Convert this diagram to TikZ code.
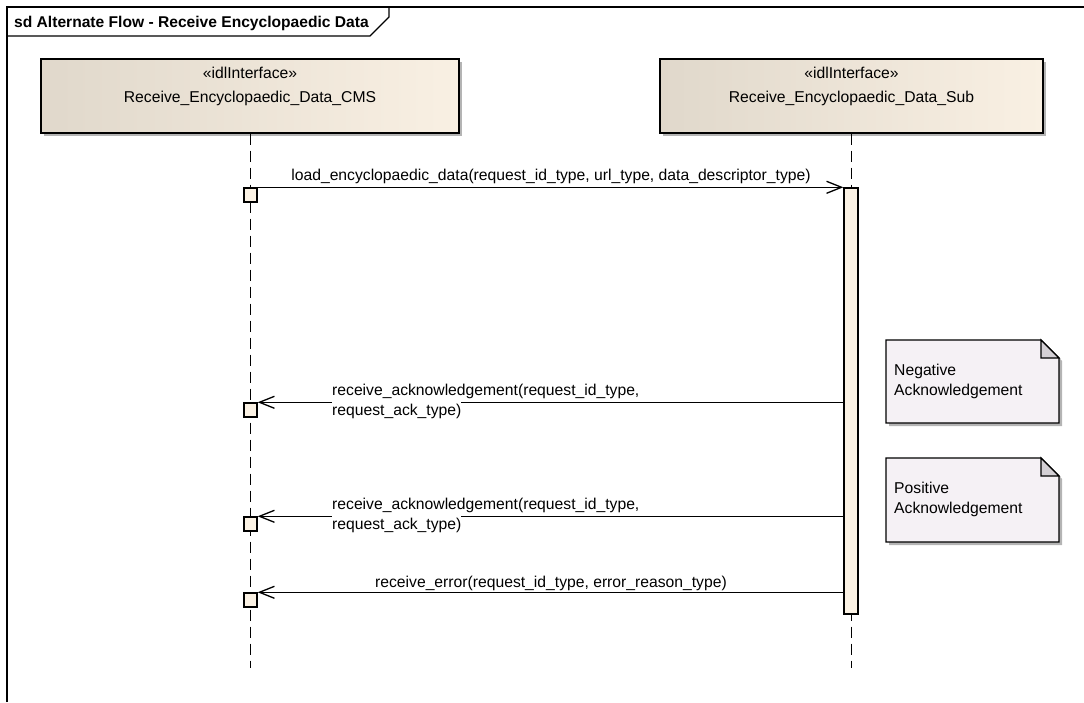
\documentclass[tikz,border=0pt]{standalone}
\usepackage{fontspec}
\setmainfont{Liberation Sans}
\usetikzlibrary{arrows.meta,shadows}
\definecolor{boxL}{RGB}{224,216,203}
\definecolor{boxR}{RGB}{249,240,227}
\definecolor{actfill}{RGB}{251,242,228}
\definecolor{notefill}{RGB}{245,241,245}
\definecolor{foldfill}{RGB}{212,208,213}
\definecolor{shadowc}{RGB}{180,180,180}
\tikzset{
  every node/.style={font=\fontsize{15.7}{18}\selectfont, inner sep=0pt},
  headbox/.style={draw=black, line width=1.4pt, left color=boxL, right color=boxR, shading angle=90,
     drop shadow={shadow xshift=3pt, shadow yshift=-3pt, fill=shadowc, opacity=1}},
  lifeline/.style={line width=1.4pt, dash pattern=on 11pt off 6pt},
  actbox/.style={draw=black, line width=1.4pt, fill=actfill},
  msg/.style={line width=1.3pt, -{Straight Barb[length=15pt,width=12pt,line width=1.3pt]}},
  msgtext/.style={anchor=base},
  notetext/.style={anchor=base west},
  notebody/.style={draw=black, line width=1.4pt, fill=notefill},
  frameline/.style={line width=1.3pt},
}
\begin{document}
\begin{tikzpicture}[x=1pt,y=-1pt]
\useasboundingbox (0,0) rectangle (1084,702);
% frame
\draw[frameline] (7,702) -- (7,7) -- (1084,7);
\draw[frameline] (7,36) -- (370,36) -- (389,17) -- (389,7);
\node[anchor=base west, font=\fontsize{15.6}{18}\selectfont\bfseries] (title) at (14,27) {sd Alternate Flow - Receive Encyclopaedic Data};

% lifeline heads
\node[headbox, minimum width=418pt, minimum height=74pt] (headL) at (250,96) {};
\node[headbox, minimum width=383pt, minimum height=74pt] (headR) at (851.5,96) {};
\node[msgtext] (stL) at (250,78) {«idlInterface»};
\node[msgtext] (nmL) at (250,102) {Receive\_Encyclopaedic\_Data\_CMS};
\node[msgtext] (stR) at (851.5,78) {«idlInterface»};
\node[msgtext] (nmR) at (851.5,102) {Receive\_Encyclopaedic\_Data\_Sub};

% lifelines
\coordinate (endL) at (250.5,668);
\coordinate (endR) at (851.5,668);
\draw[lifeline] (headL.south -| endL) -- (endL);
\draw[lifeline] (headR.south -| endR) -- (endR);

% activations
\node[actbox, minimum width=14pt, minimum height=426pt] (bar) at (851,401) {};
\node[actbox, minimum width=13pt, minimum height=14pt] (sq1) at (250.5,195) {};
\node[actbox, minimum width=13pt, minimum height=14pt] (sq2) at (250.5,410) {};
\node[actbox, minimum width=13pt, minimum height=14pt] (sq3) at (250.5,524) {};
\node[actbox, minimum width=13pt, minimum height=14pt] (sq4) at (250.5,600) {};

% messages
\draw[msg] (sq1.north east) -- (sq1.north east -| bar.west);
\node[msgtext] (m1) at (551,180) {load\_encyclopaedic\_data(request\_id\_type, url\_type, data\_descriptor\_type)};

\draw[msg] (sq2.north east -| bar.west) -- (sq2.north east);
\node[anchor=base west] (m2a) at (332,395) {receive\_acknowledgement(request\_id\_type,};
\node[anchor=base west, fill=white, inner ysep=1.5pt, text height=12pt] (m2b) at (332,415) {request\_ack\_type)};

\draw[msg] (sq3.north east -| bar.west) -- (sq3.north east);
\node[anchor=base west] (m3a) at (332,509) {receive\_acknowledgement(request\_id\_type,};
\node[anchor=base west, fill=white, inner ysep=1.5pt, text height=12pt] (m3b) at (332,529) {request\_ack\_type)};

\draw[msg] (sq4.north east -| bar.west) -- (sq4.north east);
\node[msgtext] (m4) at (551,587) {receive\_error(request\_id\_type, error\_reason\_type)};

% notes
\fill[shadowc] (889,343) -- (1044,343) -- (1062,361) -- (1062,426) -- (889,426) -- cycle;
\draw[notebody] (886,340) -- (1041,340) -- (1059,358) -- (1059,423) -- (886,423) -- cycle;
\draw[line width=1.1pt, fill=foldfill] (1041,340) -- (1041,358) -- (1059,358) -- cycle;
\node[notetext] (n1a) at (894,375) {Negative};
\node[notetext] (n1b) at (894,395) {Acknowledgement};

\fill[shadowc] (889,461) -- (1044,461) -- (1062,479) -- (1062,545) -- (889,545) -- cycle;
\draw[notebody] (886,458) -- (1041,458) -- (1059,476) -- (1059,542) -- (886,542) -- cycle;
\draw[line width=1.1pt, fill=foldfill] (1041,458) -- (1041,476) -- (1059,476) -- cycle;
\node[notetext] (n2a) at (894,493) {Positive};
\node[notetext] (n2b) at (894,513) {Acknowledgement};
\end{tikzpicture}
\end{document}
